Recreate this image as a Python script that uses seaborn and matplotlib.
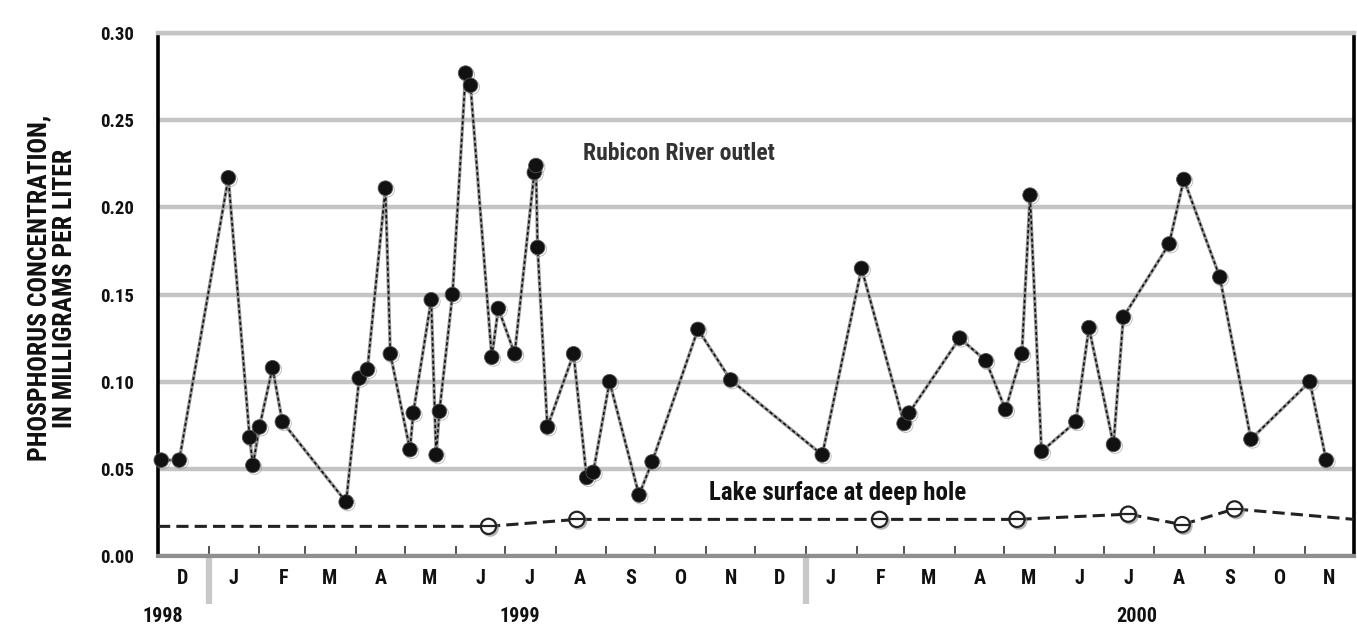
import numpy as np
import pandas as pd
import matplotlib
matplotlib.use("Agg")
import matplotlib.pyplot as plt
import matplotlib.dates as mdates
import matplotlib.transforms as mtransforms
import matplotlib.patheffects as pe
import seaborn as sns

sns.set_theme(style="white", rc={"axes.edgecolor": "black"})
plt.rcParams['font.family'] = ['Liberation Sans Narrow', 'Roboto Condensed', 'DejaVu Sans']
plt.rcParams['font.stretch'] = 'condensed'
plt.rcParams['font.weight'] = 'bold'

# Rubicon River outlet samples
rubicon_dates = [
    "1998-12-03", "1998-12-14", "1999-01-13", "1999-01-26", "1999-01-28",
    "1999-02-01", "1999-02-09", "1999-02-15", "1999-03-26", "1999-04-03",
    "1999-04-08", "1999-04-19", "1999-04-22", "1999-05-04", "1999-05-06",
    "1999-05-17", "1999-05-20", "1999-05-22", "1999-05-30", "1999-06-07",
    "1999-06-10", "1999-06-23", "1999-06-27", "1999-07-07", "1999-07-19",
    "1999-07-20", "1999-07-21", "1999-07-27", "1999-08-12", "1999-08-20",
    "1999-08-24", "1999-09-03", "1999-09-21", "1999-09-29", "1999-10-27",
    "1999-11-16", "2000-01-11", "2000-02-04", "2000-03-01", "2000-03-04",
    "2000-04-04", "2000-04-20", "2000-05-02", "2000-05-12", "2000-05-17",
    "2000-05-24", "2000-06-14", "2000-06-22", "2000-07-07", "2000-07-13",
    "2000-08-10", "2000-08-19", "2000-09-10", "2000-09-29", "2000-11-04",
    "2000-11-14",
]
rubicon_values = [
    0.055, 0.055, 0.217, 0.068, 0.052,
    0.074, 0.108, 0.077, 0.031, 0.102,
    0.107, 0.211, 0.116, 0.061, 0.082,
    0.147, 0.058, 0.083, 0.150, 0.277,
    0.270, 0.114, 0.142, 0.116, 0.220,
    0.224, 0.177, 0.074, 0.116, 0.045,
    0.048, 0.100, 0.035, 0.054, 0.130,
    0.101, 0.058, 0.165, 0.076, 0.082,
    0.125, 0.112, 0.084, 0.116, 0.207,
    0.060, 0.077, 0.131, 0.064, 0.137,
    0.179, 0.216, 0.160, 0.067, 0.100,
    0.055,
]

# Lake surface at deep hole (first and last points lie on the axis limits)
lake_dates = ["1998-12-01", "1999-06-21", "1999-08-14", "2000-02-15", "2000-05-09",
              "2000-07-16", "2000-08-18", "2000-09-19", "2000-12-01"]
lake_values = [0.017, 0.017, 0.021, 0.021, 0.021, 0.024, 0.018, 0.027, 0.021]
lake_sampled = [False, True, True, True, True, True, True, True, False]

y_ticks = [0.00, 0.05, 0.10, 0.15, 0.20, 0.25, 0.30]
year_labels = ["1998", "1999", "2000"]

rubicon = pd.DataFrame({"date": pd.to_datetime(rubicon_dates), "p": rubicon_values})
lake = pd.DataFrame({"date": pd.to_datetime(lake_dates), "p": lake_values,
                     "sampled": lake_sampled})

fig = plt.figure(figsize=(13.57, 6.35), dpi=100)
ax = fig.add_axes([158 / 1357, 1 - 556 / 635, 1196 / 1357, 523 / 635])

shadow = [pe.SimpleLineShadow(offset=(1.2, -1.2), shadow_color="#888888", alpha=0.6),
          pe.Normal()]

# grid
ax.set_ylim(0, 0.30)
ax.set_xlim(pd.Timestamp("1998-12-01"), pd.Timestamp("2000-12-01"))
ax.set_yticks(y_ticks)
ax.set_yticklabels([f"{v:.2f}" for v in y_ticks])
ax.yaxis.grid(True, color="#c4c4c4", linewidth=3.2)
ax.set_axisbelow(True)

# lake surface line
sns.lineplot(data=lake, x="date", y="p", color="#222222", linewidth=2.2,
             ax=ax, legend=False, zorder=3, errorbar=None)
ax.lines[-1].set_dashes((4, 2))
samp = lake[lake["sampled"]]
ax.plot(samp["date"], samp["p"], "o", ms=11, mfc="white", mec="#222222", mew=1.6,
        zorder=4, path_effects=shadow)
ax.plot(samp["date"], samp["p"], "_", ms=10, mec="#222222", mew=1.6, zorder=5)

# rubicon line: gray underlay + black dotted
sns.lineplot(data=rubicon, x="date", y="p", color="#9a9a9a", linewidth=2.4,
             ax=ax, legend=False, zorder=5, errorbar=None)
sns.lineplot(data=rubicon, x="date", y="p", color="#111111", linewidth=1.2,
             ax=ax, legend=False, zorder=6, errorbar=None)
ax.lines[-1].set_dashes((2, 1.5))
ax.plot(rubicon["date"], rubicon["p"], "o", ms=10.5, color="#111111",
        mec="#555555", mew=0.6, zorder=7, clip_on=False, path_effects=shadow)

# spines
for side in ["left", "right"]:
    ax.spines[side].set_color("black")
    ax.spines[side].set_linewidth(2.6)
ax.spines["top"].set_color("#c4c4c4")
ax.spines["top"].set_linewidth(3.2)
ax.spines["bottom"].set_color("#8f8f8f")
ax.spines["bottom"].set_linewidth(3)

# month ticks
ax.xaxis.set_major_locator(mdates.MonthLocator())
ax.xaxis.set_major_formatter(plt.NullFormatter())
ax.xaxis.set_minor_locator(mdates.MonthLocator(bymonthday=16))
ax.xaxis.set_minor_formatter(plt.FuncFormatter(
    lambda v, pos: mdates.num2date(v).strftime("%b")[0]))
ax.tick_params(axis="x", which="major", direction="in", length=7, width=1.3,
               color="#444444", bottom=True)
ax.tick_params(axis="x", which="minor", length=0, pad=9, labelsize=14.5,
               labelcolor="#111111")
ax.tick_params(axis="y", length=0, pad=17, labelsize=13.5, labelcolor="#111111")
ax.set_xlabel("")
ax.set_ylabel("")

# year separators and labels
trans = mtransforms.blended_transform_factory(ax.transData, ax.transAxes)
for d in ["1999-01-01", "2000-01-01"]:
    ax.plot([pd.Timestamp(d)] * 2, [-0.092, 0.0], color="#c8c8c8", lw=4.5,
            transform=trans, clip_on=False, solid_capstyle="butt")
for lab, d in zip(year_labels, ["1998-12-04", "1999-07-10", "2000-07-21"]):
    ax.text(pd.Timestamp(d), -0.115, lab, transform=trans, ha="center", va="center",
            fontsize=14.5, fontweight="bold", color="#111111")

# series labels
ax.text(pd.Timestamp("1999-08-18"), 0.231, "Rubicon River outlet", fontsize=17,
        fontweight="bold", color="#333333", ha="left", va="center", zorder=8)
ax.text(pd.Timestamp("1999-11-03"), 0.036, "Lake surface at deep hole", fontsize=18,
        fontweight="bold", color="#111111", ha="left", va="center", zorder=8)

fig.text(52 / 1357, 1 - 288 / 635,
         "PHOSPHORUS CONCENTRATION,\nIN MILLIGRAMS PER LITER",
         rotation=90, ha="center", va="center", multialignment="center",
         fontsize=18.5, fontweight="bold", linespacing=1.08, color="#111111")

fig.savefig("out.png", dpi=100)
